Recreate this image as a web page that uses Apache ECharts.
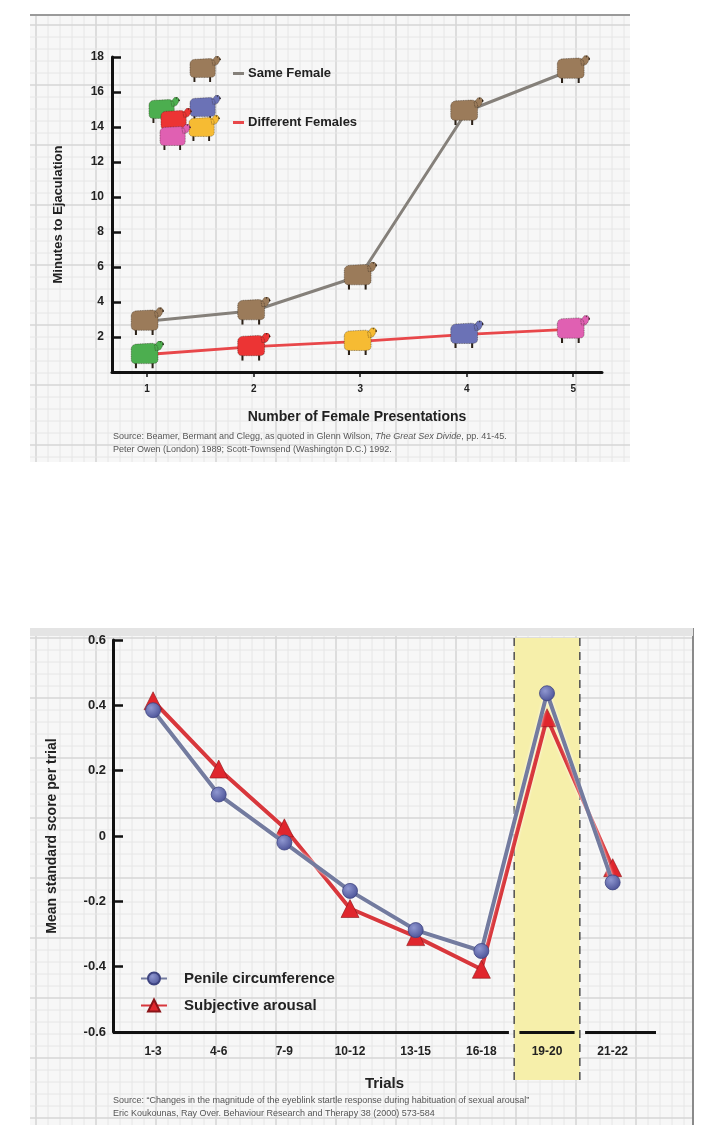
<!DOCTYPE html>
<html>
<head>
<meta charset="utf-8">
<script src="https://cdn.jsdelivr.net/npm/echarts@6/dist/echarts.min.js"></script>
<style>
  html, body { margin: 0; padding: 0; background: #fff; }
  #main { width: 709px; height: 1128px; }
</style>
</head>
<body>
<div id="main"></div>
<script>
// top chart: sheep data
const presentations = [1, 2, 3, 4, 5];
const sameFemale = [2.9, 3.5, 5.5, 14.9, 17.3];
const differentFemales = [1.0, 1.45, 1.75, 2.15, 2.45];
const sameColor = '#9b7b5a';
const differentColors = ['#4cae4f', '#ec3434', '#f6bb33', '#6b72b6', '#e060b2'];
const minuteTicks = [2, 4, 6, 8, 10, 12, 14, 16, 18];

// bottom chart: startle response
const trials = ['1-3', '4-6', '7-9', '10-12', '13-15', '16-18', '19-20', '21-22'];
const penile = [0.385, 0.127, -0.02, -0.168, -0.288, -0.352, 0.437, -0.142];
const arousal = [0.414, 0.205, 0.025, -0.222, -0.308, -0.408, 0.362, -0.097];
const scoreTicks = [-0.6, -0.4, -0.2, 0, 0.2, 0.4, 0.6];

const FONT = '"Liberation Sans", Arial, sans-serif';
const SHEEP_SIZE = [34, 28];

// little sheep drawn as an svg image: coloured body and head, dark legs and nose
function sheepUrl(color) {
  const svg = '<svg xmlns="http://www.w3.org/2000/svg" viewBox="0 0 100 80">' +
    '<path d="M14,58L20,58L20,80L14,80Z M63,58L69,58L69,80L63,80Z" fill="#2b2118"/>' +
    '<path d="M3,26C3,14 12,10 22,10L64,8C76,8 82,16 82,26L82,54C82,64 74,66 64,66L18,66C8,66 3,62 3,52Z' +
    'M72,14L82,2C86,-1 92,0 95,4L100,11L95,15C93,22 90,26 84,28L74,28Z" fill="' + color +
    '" stroke="rgba(40,30,20,0.5)" stroke-width="2.5" stroke-dasharray="3 2"/>' +
    '<path d="M95,5L100,11L95,14Z M86,2L90,1L89,7Z" fill="#2b2118"/></svg>';
  return 'data:image/svg+xml;charset=utf-8,' + encodeURIComponent(svg);
}

const chart = echarts.init(document.getElementById('main'));

function gridPaper(x0, y0, x1, y1) {
  const els = [{
    type: 'rect', shape: { x: x0, y: y0, width: x1 - x0, height: y1 - y0 },
    style: { fill: '#f7f7f7' }, z: -10
  }];
  let k = 0;
  for (let x = x0 + 6; x < x1; x += 12, k++) {
    const major = k % 5 === 0;
    els.push({ type: 'line', shape: { x1: x, y1: y0, x2: x, y2: y1 },
      style: { stroke: major ? '#d6d6d6' : '#e6e6e6', lineWidth: major ? 1.6 : 1 }, z: -9 });
  }
  k = 0;
  for (let y = y0 + 10; y < y1; y += 12, k++) {
    const major = k % 5 === 0;
    els.push({ type: 'line', shape: { x1: x0, y1: y, x2: x1, y2: y },
      style: { stroke: major ? '#d6d6d6' : '#e6e6e6', lineWidth: major ? 1.6 : 1 }, z: -9 });
  }
  return els;
}

function sheepGraphic(x, y, color) {
  return {
    type: 'image', left: x, top: y, z: 10,
    style: { image: sheepUrl(color), width: SHEEP_SIZE[0] - 2, height: SHEEP_SIZE[1] - 2 }
  };
}

const graphics = [].concat(
  gridPaper(30, 15, 630, 462),
  [{ type: 'line', shape: { x1: 30, y1: 15, x2: 630, y2: 15 }, style: { stroke: '#9a9a9a', lineWidth: 2 }, z: -8 }],
  gridPaper(30, 628, 693, 1125),
  [{ type: 'line', shape: { x1: 693, y1: 628, x2: 693, y2: 1125 }, style: { stroke: '#8a8a8a', lineWidth: 2 }, z: -8 },
   { type: 'rect', shape: { x: 30, y: 628, width: 663, height: 8 }, style: { fill: '#e4e4e4' }, z: -8 }],
  [
    sheepGraphic(189, 56, sameColor),
    sheepGraphic(148, 97, differentColors[0]),
    sheepGraphic(189, 95, differentColors[3]),
    sheepGraphic(160, 108, differentColors[1]),
    sheepGraphic(188, 115, differentColors[2]),
    sheepGraphic(159, 124, differentColors[4])
  ],
  [{
    type: 'text', left: 113, top: 432,
    style: {
      text: '{n|Source: Beamer, Bermant and Clegg, as quoted in Glenn Wilson, }{i|The Great Sex Divide}{n|, pp. 41-45.}\n{n|Peter Owen (London) 1989; Scott-Townsend (Washington D.C.) 1992.}',
      rich: {
        n: { fontFamily: FONT, fontSize: 9, fill: '#555', lineHeight: 13 },
        i: { fontFamily: FONT, fontSize: 9, fill: '#555', fontStyle: 'italic', lineHeight: 13 }
      }
    }, z: 20
  }, {
    type: 'text', left: 113, top: 1094,
    style: {
      text: 'Source: \u201cChanges in the magnitude of the eyeblink startle response during habituation of sexual arousal\u201d\nEric Koukounas, Ray Over. Behaviour Research and Therapy 38 (2000) 573-584',
      fontFamily: FONT, fontSize: 9, fill: '#555', lineHeight: 13
    }, z: 20
  }]
);

const axisNameStyle = { fontFamily: FONT, fontWeight: 'bold', color: '#222' };

const option = {
  animation: false,
  backgroundColor: '#fff',
  textStyle: { fontFamily: FONT },
  grid: [
    { left: 112, top: 57, width: 490, height: 315 },
    { left: 113, top: 640, width: 543, height: 392 }
  ],
  legend: [{
    data: [
      { name: 'Same Female', itemStyle: { color: '#85807a' } },
      { name: 'Different Females', itemStyle: { color: '#e8474a' } }
    ],
    orient: 'vertical', left: 228, top: 62, itemGap: 36,
    icon: 'rect', itemWidth: 11, itemHeight: 3,
    textStyle: { fontFamily: FONT, fontWeight: 'bold', fontSize: 13, color: '#222', padding: [0, 0, 0, -1] },
    selectedMode: false
  }, {
    data: ['Penile circumference', 'Subjective arousal'],
    orient: 'vertical', left: 135, top: 966, itemGap: 12,
    itemWidth: 26, itemHeight: 15,
    textStyle: { fontFamily: FONT, fontWeight: 'bold', fontSize: 15, color: '#222', padding: [0, 0, 0, 12] },
    selectedMode: false
  }],
  xAxis: [{
    gridIndex: 0, type: 'value', min: 0.67, max: 5.27,
    name: 'Number of Female Presentations', nameLocation: 'middle', nameGap: 38,
    nameTextStyle: Object.assign({ fontSize: 14 }, axisNameStyle),
    axisLine: { show: true, onZero: false, lineStyle: { color: '#111', width: 3 } },
    axisTick: { show: true, customValues: presentations, length: 5, lineStyle: { color: '#111', width: 1.5 } },
    axisLabel: { customValues: presentations, margin: 12, fontSize: 10, fontWeight: 'bold', color: '#222' },
    splitLine: { show: false }
  }, {
    gridIndex: 1, type: 'value', min: -0.61, max: 7.66,
    name: 'Trials', nameLocation: 'middle', nameGap: 44,
    nameTextStyle: Object.assign({ fontSize: 15 }, axisNameStyle),
    axisLine: { show: false, onZero: false },
    axisTick: { show: false },
    axisLabel: {
      customValues: trials.map((t, i) => i), margin: 14, fontSize: 12, fontWeight: 'bold', color: '#222',
      formatter: v => trials[Math.round(v)]
    },
    splitLine: { show: false }
  }],
  yAxis: [{
    gridIndex: 0, type: 'value', min: 0, max: 18,
    name: 'Minutes to Ejaculation', nameLocation: 'middle', nameGap: 47, nameRotate: 90,
    nameTextStyle: Object.assign({ fontSize: 13 }, axisNameStyle),
    axisLine: { show: true, onZero: false, lineStyle: { color: '#111', width: 3 } },
    axisTick: { show: true, inside: true, customValues: minuteTicks, length: 9, lineStyle: { color: '#111', width: 2.5 } },
    axisLabel: { customValues: minuteTicks, margin: 8, fontSize: 12, fontWeight: 'bold', color: '#222' },
    splitLine: { show: false }
  }, {
    gridIndex: 1, type: 'value', min: -0.6, max: 0.6,
    name: 'Mean standard score per trial', nameLocation: 'middle', nameGap: 54, nameRotate: 90,
    nameTextStyle: Object.assign({ fontSize: 14 }, axisNameStyle),
    axisLine: { show: true, onZero: false, lineStyle: { color: '#111', width: 3 } },
    axisTick: { show: true, inside: true, customValues: scoreTicks, length: 10, lineStyle: { color: '#111', width: 2.5 } },
    axisLabel: {
      customValues: scoreTicks, margin: 7, fontSize: 13, fontWeight: 'bold', color: '#222',
      formatter: v => (Math.abs(v) < 1e-9 ? '0' : String(Math.round(v * 10) / 10))
    },
    splitLine: { show: false }
  }],
  series: [{
    name: 'Same Female', type: 'line', xAxisIndex: 0, yAxisIndex: 0,
    data: presentations.map((p, i) => [p, sameFemale[i]]),
    symbol: 'image://' + sheepUrl(sameColor), symbolSize: SHEEP_SIZE, symbolKeepAspect: false,
    itemStyle: { color: '#85807a' },
    lineStyle: { color: '#85807a', width: 3 }, z: 3
  }, {
    name: 'Different Females', type: 'line', xAxisIndex: 0, yAxisIndex: 0,
    data: presentations.map((p, i) => ({
      value: [p, differentFemales[i]], symbol: 'image://' + sheepUrl(differentColors[i])
    })),
    symbolSize: SHEEP_SIZE, symbolKeepAspect: false,
    itemStyle: { color: '#e8474a' },
    lineStyle: { color: '#e8474a', width: 3 }, z: 3
  }, {
    name: 'Subjective arousal', type: 'line', xAxisIndex: 1, yAxisIndex: 1,
    data: arousal.map((v, i) => [i, v]),
    symbol: 'triangle', symbolSize: 18,
    itemStyle: { color: '#e0262d', borderColor: '#8a1418', borderWidth: 0.6 },
    lineStyle: { color: '#d8373c', width: 4, shadowColor: '#ffffff', shadowBlur: 3 },
    z: 3,
    markLine: {
      silent: true, symbol: 'none', label: { show: false },
      lineStyle: { color: '#111', width: 3, type: 'solid' },
      data: [
        [{ coord: [-0.61, -0.6] }, { coord: [5.42, -0.6] }],
        [{ coord: [5.58, -0.6] }, { coord: [6.42, -0.6] }],
        [{ coord: [6.58, -0.6] }, { coord: [7.66, -0.6] }]
      ]
    }
  }, {
    name: 'Penile circumference', type: 'line', xAxisIndex: 1, yAxisIndex: 1,
    data: penile.map((v, i) => [i, v]),
    symbol: 'circle', symbolSize: 15,
    itemStyle: {
      color: new echarts.graphic.RadialGradient(0.38, 0.35, 0.7, [
        { offset: 0, color: '#8f97d0' }, { offset: 1, color: '#4a5196' }
      ]),
      borderColor: '#3e4480', borderWidth: 0.8
    },
    lineStyle: { color: '#737b9f', width: 4, shadowColor: '#ffffff', shadowBlur: 3 },
    z: 4
  }],
  graphic: graphics
};

chart.setOption(option);

// highlighted 19-20 band, placed from the axis scale
const bandLeft = chart.convertToPixel({ xAxisIndex: 1 }, 5.5);
const bandRight = chart.convertToPixel({ xAxisIndex: 1 }, 6.5);
const bandTop = chart.convertToPixel({ yAxisIndex: 1 }, 0.6) - 2;
const bandBottom = 1080;
chart.setOption({
  graphic: graphics.concat([{
    type: 'rect', shape: { x: bandLeft, y: bandTop, width: bandRight - bandLeft, height: bandBottom - bandTop },
    style: { fill: '#f6efaa' }, z: -5
  }, {
    type: 'line', shape: { x1: bandLeft, y1: bandTop, x2: bandLeft, y2: bandBottom },
    style: { stroke: '#4f4f4f', lineWidth: 1.5, lineDash: [8, 6] }, z: -4
  }, {
    type: 'line', shape: { x1: bandRight, y1: bandTop, x2: bandRight, y2: bandBottom },
    style: { stroke: '#4f4f4f', lineWidth: 1.5, lineDash: [8, 6] }, z: -4
  }])
});
</script>
</body>
</html>
